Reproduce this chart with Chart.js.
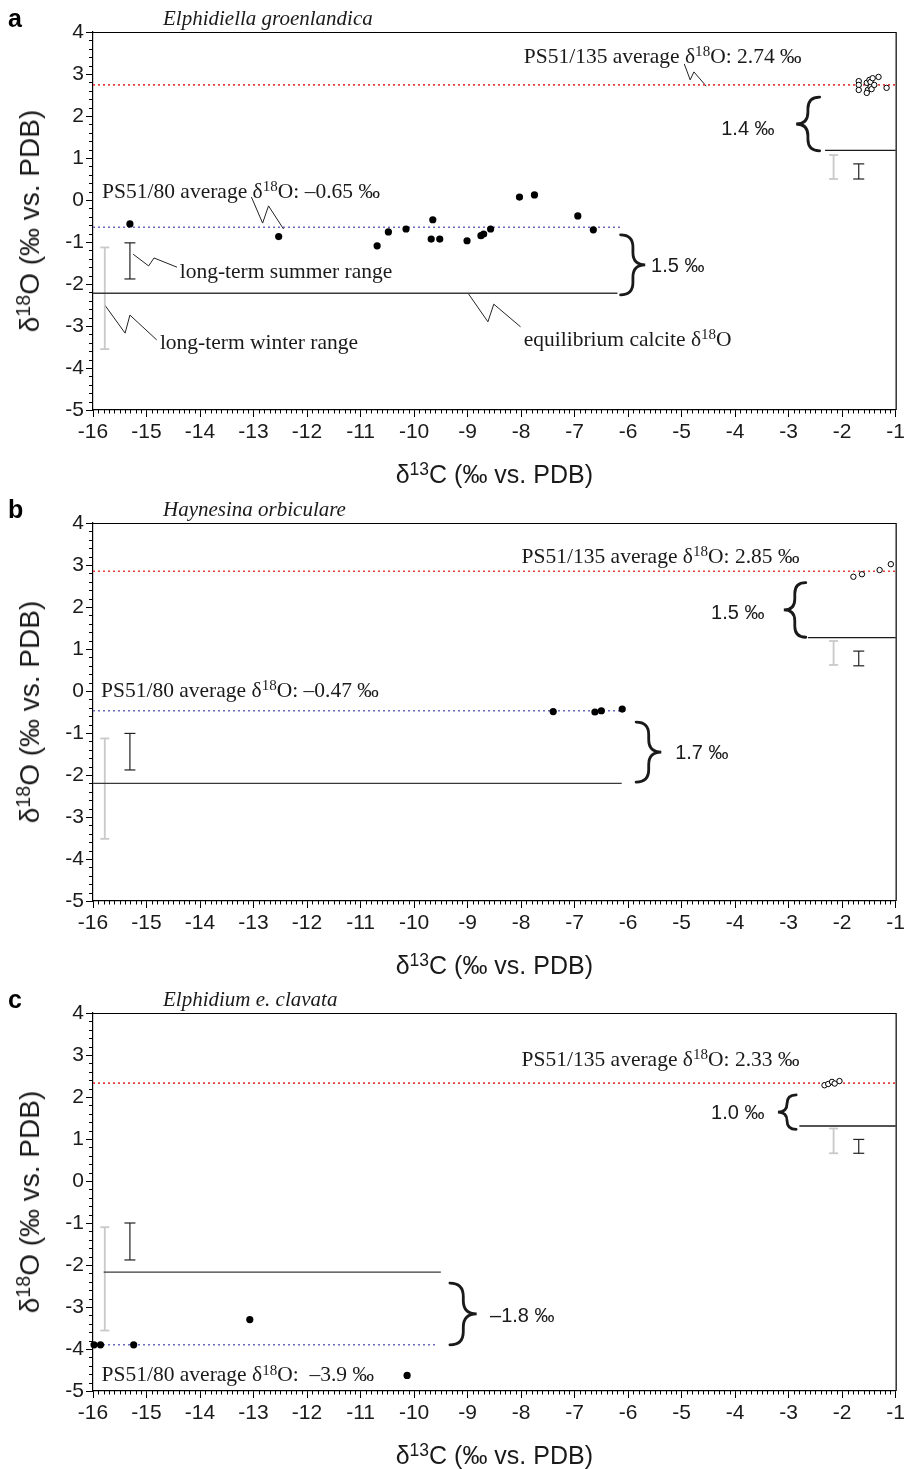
<!DOCTYPE html>
<html><head><meta charset="utf-8">
<script src="https://cdn.jsdelivr.net/npm/chart.js@4.4.0/dist/chart.umd.min.js"></script>
<style>
html,body{margin:0;padding:0;background:#fff;}
#wrap{position:relative;width:908px;height:1469px;overflow:hidden;background:#fff;}
canvas{position:absolute;left:0;}
.t{position:absolute;white-space:nowrap;line-height:1;color:#1a1a1a;}
.serif{font-family:'Liberation Serif','Times New Roman',serif;font-size:21.5px;}
.sans{font-family:'Liberation Sans',Arial,sans-serif;font-size:20px;}
.sup{font-size:0.7em;position:relative;top:-0.45em;}
.title{font-family:'Liberation Serif','Times New Roman',serif;font-style:italic;font-size:21px;}
.letter{font-family:'Liberation Sans',Arial,sans-serif;font-weight:bold;font-size:25px;color:#000;}
.axt{font-family:'Liberation Sans',Arial,sans-serif;font-size:25px;}
.axty{font-family:'Liberation Sans',Arial,sans-serif;font-size:28px;}
</style></head><body><div id="wrap"></div>
<script>
// ---------- tick labels ----------
const xTickValues = [-16,-15,-14,-13,-12,-11,-10,-9,-8,-7,-6,-5,-4,-3,-2,-1];
const yTickValues = [4,3,2,1,0,-1,-2,-3,-4,-5];
const xAxisTitle = 'δ<span class="sup">13</span>C (‰ vs. PDB)';
const yAxisTitle = 'δ<span class="sup">18</span>O (‰ vs. PDB)';

// ---------- panel a: Elphidiella groenlandica ----------
const aName = 'Elphidiella groenlandica';
const aPS80_d13C = [-15.31,-12.53,-10.69,-10.48,-10.15,-9.65,-9.68,-9.52,-9.01,-8.75,-8.70,-8.57,-8.03,-7.75,-6.94,-6.65];
const aPS80_d18O = [-0.57,-0.87,-1.09,-0.76,-0.69,-0.47,-0.93,-0.93,-0.97,-0.85,-0.81,-0.69,0.07,0.12,-0.38,-0.71];
const aPS135_d13C = [-1.69,-1.69,-1.69,-1.54,-1.52,-1.54,-1.49,-1.47,-1.47,-1.45,-1.43,-1.40,-1.32,-1.17];
const aPS135_d18O = [2.83,2.74,2.62,2.79,2.62,2.55,2.86,2.69,2.81,2.64,2.90,2.74,2.93,2.67];
const aAvg = [-0.65, 2.74];          // PS51/80, PS51/135 average δ18O
const aEquil = [-2.22, 1.18];        // equilibrium calcite δ18O at PS51/80, PS51/135
const aSummer80 = [-1.02, -1.88];
const aWinter80 = [-1.13, -3.55];
const aSummer135 = [0.86, 0.50];
const aWinter135 = [1.07, 0.50];
const aOffsets = ['1.5 ‰', '1.4 ‰'];

// ---------- panel b: Haynesina orbiculare ----------
const bName = 'Haynesina orbiculare';
const bPS80_d13C = [-7.40,-6.62,-6.50,-6.11];
const bPS80_d18O = [-0.49,-0.50,-0.47,-0.43];
const bPS135_d13C = [-1.79,-1.63,-1.30,-1.09];
const bPS135_d18O = [2.72,2.78,2.88,3.02];
const bAvg = [-0.47, 2.85];
const bEquil = [-2.20, 1.27];
const bSummer80 = [-1.01, -1.88];
const bWinter80 = [-1.13, -3.52];
const bSummer135 = [0.95, 0.60];
const bWinter135 = [1.19, 0.62];
const bOffsets = ['1.7 ‰', '1.5 ‰'];

// ---------- panel c: Elphidium e. clavata ----------
const cName = 'Elphidium e. clavata';
const cPS80_d13C = [-15.98,-15.86,-15.24,-13.07,-10.13];
const cPS80_d18O = [-3.90,-3.90,-3.90,-3.30,-4.63];
const cPS135_d13C = [-2.33,-2.26,-2.19,-2.14,-2.05];
const cPS135_d18O = [2.28,2.31,2.36,2.32,2.38];
const cAvg = [-3.9, 2.33];
const cEquil = [-2.17, 1.31];
const cSummer80 = [-1.00, -1.88];
const cWinter80 = [-1.10, -3.56];
const cSummer135 = [0.99, 0.66];
const cWinter135 = [1.25, 0.66];
const cOffsets = ['–1.8 ‰', '1.0 ‰'];

// ---------- layout / annotation settings (not data) ----------
const panels = [
  {letter:'a', name:aName, x80:aPS80_d13C, y80:aPS80_d18O, x135:aPS135_d13C, y135:aPS135_d18O,
   avg:aAvg, eq:aEquil, s80:aSummer80, w80:aWinter80, s135:aSummer135, w135:aWinter135, off:aOffsets,
   top:0, h:490, avg80End:-6.1, eq80Range:[-16,-6.2], eq135Start:-2.32, barX:[-15.31,-15.78,-1.69,-2.16],
   labels:{l135:[-7.95,3.41], l80:[-15.83,0.19], off80:[-5.57,-1.55], off135:[-4.26,1.71]},
   avg80Text:'–0.65', avg135Text:'2.74',
   braces:[[-6.14,-5.68,-0.83,-2.26],[-2.42,-2.86,2.45,1.17]],
   extraText:[['long-term summer range',-14.38,-1.71],['long-term winter range',-14.75,-3.40],
              ['equilibrium calcite δ<span class="sup">18</span>O',-7.95,-3.33]],
   leaders:[
     [[-4.95,3.24],[-4.84,2.86],[-4.77,3.05],[-4.54,2.71]],
     [[-13.04,0.07],[-12.83,-0.55],[-12.72,-0.14],[-12.44,-0.69]],
     [[-15.25,-1.29],[-14.96,-1.57],[-14.86,-1.38],[-14.43,-1.60]],
     [[-15.78,-2.50],[-15.40,-3.17],[-15.31,-2.74],[-14.81,-3.33]],
     [[-8.98,-2.24],[-8.62,-2.90],[-8.51,-2.48],[-8.01,-3.02]]
   ]},
  {letter:'b', name:bName, x80:bPS80_d13C, y80:bPS80_d18O, x135:bPS135_d13C, y135:bPS135_d18O,
   avg:bAvg, eq:bEquil, s80:bSummer80, w80:bWinter80, s135:bSummer135, w135:bWinter135, off:bOffsets,
   top:491, h:490, avg80End:-6.03, eq80Range:[-16,-6.12], eq135Start:-2.64, barX:[-15.31,-15.78,-1.69,-2.16],
   labels:{l135:[-7.99,3.20], l80:[-15.85,0.01], off80:[-5.12,-1.45], off135:[-4.45,1.89]},
   avg80Text:'–0.47', avg135Text:'2.85',
   braces:[[-5.85,-5.38,-0.74,-2.17],[-2.68,-3.09,2.58,1.28]],
   extraText:[], leaders:[]},
  {letter:'c', name:cName, x80:cPS80_d13C, y80:cPS80_d18O, x135:cPS135_d13C, y135:cPS135_d18O,
   avg:cAvg, eq:cEquil, s80:cSummer80, w80:cWinter80, s135:cSummer135, w135:cWinter135, off:cOffsets,
   top:981, h:488, avg80End:-9.57, eq80Range:[-15.8,-9.5], eq135Start:-2.80, barX:[-15.31,-15.78,-1.69,-2.16],
   labels:{l135:[-7.99,2.88], l80:[-15.84,-4.63], off80:[-8.58,-3.18], off135:[-4.45,1.65]},
   avg80Text:'&nbsp;–3.9', avg135Text:'2.33',
   braces:[[-9.33,-8.83,-2.43,-3.90],[-2.86,-3.20,2.05,1.23]],
   extraText:[], leaders:[]}
];

const wrap = document.getElementById('wrap');
const RED = '#e8403f', BLUE = '#6a6ac0', EQ = '#3a3a3a', GREY = '#c9c9c9';

function drawBrace(ctx, xs, ys, x0v, x1v, y0v, y1v) {
  const x0 = xs.getPixelForValue(x0v), x1 = xs.getPixelForValue(x1v);
  const ya = ys.getPixelForValue(y0v), yb = ys.getPixelForValue(y1v);
  const top = Math.min(ya, yb), bot = Math.max(ya, yb), mid = (top + bot) / 2;
  const xm = (x0 + x1) / 2, r = Math.min(Math.abs(x1 - x0) / 2, (bot - top) / 4);
  ctx.beginPath();
  ctx.moveTo(x0, top);
  ctx.quadraticCurveTo(xm, top, xm, top + r);
  ctx.lineTo(xm, mid - r);
  ctx.quadraticCurveTo(xm, mid, x1, mid);
  ctx.quadraticCurveTo(xm, mid, xm, mid + r);
  ctx.lineTo(xm, bot - r);
  ctx.quadraticCurveTo(xm, bot, x0, bot);
  ctx.stroke();
}

const decor = {
  id: 'decor',
  afterDraw(chart) {
    const {ctx, chartArea: a, scales: {x, y}} = chart;
    const p = chart.options.plugins.decor.panel;
    ctx.save();
    ctx.strokeStyle = '#000';
    ctx.lineWidth = 1.2;
    ctx.beginPath();
    ctx.moveTo(a.left, a.top + 0.5); ctx.lineTo(a.right + 0.5, a.top + 0.5); ctx.lineTo(a.right + 0.5, a.bottom);
    ctx.stroke();
    ctx.lineWidth = 1;
    ctx.beginPath();
    for (let i = 0; i <= 150; i++) {
      if (i % 10 === 0) continue;
      const px = Math.round(x.getPixelForValue(-16 + i / 10)) + 0.5;
      ctx.moveTo(px, a.bottom); ctx.lineTo(px, a.bottom + 3.5);
    }
    for (let i = 0; i <= 45; i++) {
      if (i % 5 === 0) continue;
      const py = Math.round(y.getPixelForValue(-5 + i * 0.2)) + 0.5;
      ctx.moveTo(a.left - 4, py); ctx.lineTo(a.left, py);
    }
    ctx.stroke();
    ctx.strokeStyle = '#1a1a1a';
    ctx.lineWidth = 2.8;
    ctx.lineCap = 'round';
    p.braces.forEach(b => drawBrace(ctx, x, y, b[0], b[1], b[2], b[3]));
    ctx.restore();
  }
};

function addText(html, cls, left, top, transform) {
  const d = document.createElement('div');
  d.className = 't ' + cls;
  d.innerHTML = html;
  d.style.left = left + 'px';
  d.style.top = top + 'px';
  d.style.transform = transform || 'translateY(-50%)';
  wrap.appendChild(d);
  return d;
}

panels.forEach(p => {
  const canvas = document.createElement('canvas');
  canvas.width = 908; canvas.height = p.h;
  canvas.style.top = p.top + 'px';
  wrap.appendChild(canvas);
  const pts = (xs, ys) => xs.map((v, i) => ({x: v, y: ys[i]}));
  const seg = (x1, y1, x2, y2) => [{x: x1, y: y1}, {x: x2, y: y2}];
  const lineDs = (data, color, width, dash) => ({data, showLine: true, pointRadius: 0, borderColor: color,
    borderWidth: width, borderDash: dash || [], fill: false, clip: false});
  const barDs = (xv, r, color, width, cap) => ({data: seg(xv, r[0], xv, r[1]), showLine: true,
    borderColor: color, borderWidth: width, pointStyle: 'line', pointRadius: cap,
    pointBorderColor: color, pointBorderWidth: width, clip: false});
  const datasets = [
    {data: pts(p.x80, p.y80), showLine: false, pointRadius: 3.6, pointBackgroundColor: '#000',
     pointBorderColor: '#000', pointBorderWidth: 0, clip: false},
    {data: pts(p.x135, p.y135), showLine: false, pointRadius: 2.7, pointBackgroundColor: '#fff',
     pointBorderColor: '#000', pointBorderWidth: 1, clip: false},
    lineDs(seg(-16, p.avg[1], -1, p.avg[1]), RED, 1.6, [2, 3]),
    lineDs(seg(-16, p.avg[0], p.avg80End, p.avg[0]), BLUE, 1.5, [2, 3]),
    lineDs(seg(p.eq80Range[0], p.eq[0], p.eq80Range[1], p.eq[0]), EQ, 1.3),
    lineDs(seg(p.eq135Start, p.eq[1], -1, p.eq[1]), '#1a1a1a', 1.3),
    barDs(p.barX[0], p.s80, '#222', 1.2, 5.5),
    barDs(p.barX[1], p.w80, GREY, 1.8, 4.5),
    barDs(p.barX[2], p.s135, '#222', 1.2, 5.5),
    barDs(p.barX[3], p.w135, GREY, 1.8, 4.5)
  ];
  p.leaders.forEach(L => datasets.push(lineDs(L.map(q => ({x: q[0], y: q[1]})), '#222', 1)));

  const tickFont = {family: "'Liberation Sans', Arial, sans-serif", size: 21};
  const chart = new Chart(canvas, {
    type: 'scatter',
    data: {datasets},
    plugins: [decor],
    options: {
      responsive: false, animation: false, events: [],
      layout: {padding: {top: 32, right: 10, left: 0, bottom: 0}},
      plugins: {legend: {display: false}, tooltip: {enabled: false}, decor: {panel: p}},
      scales: {
        x: {type: 'linear', min: -16, max: -1,
            afterBuildTicks: s => { s.ticks = xTickValues.map(v => ({value: v})); },
            afterFit: s => { s.height = p.h - 410; },
            ticks: {autoSkip: false, maxRotation: 0, color: '#1a1a1a', font: tickFont, padding: 3,
                    callback: v => String(v)},
            grid: {drawOnChartArea: false, drawTicks: true, tickLength: 7, color: '#000', lineWidth: 1},
            border: {display: true, color: '#000', width: 1.2}},
        y: {type: 'linear', min: -5, max: 4,
            afterBuildTicks: s => { s.ticks = yTickValues.map(v => ({value: v})); },
            afterFit: s => { s.width = 93; },
            ticks: {autoSkip: false, color: '#1a1a1a', font: tickFont, padding: 2,
                    callback: v => String(v)},
            grid: {drawOnChartArea: false, drawTicks: true, tickLength: 7, color: '#000', lineWidth: 1},
            border: {display: true, color: '#000', width: 1.2}}
      }
    }
  });

  const xs = chart.scales.x, ys = chart.scales.y, a = chart.chartArea;
  const X = v => xs.getPixelForValue(v), Y = v => p.top + ys.getPixelForValue(v);
  // panel letter, species title, axis titles
  addText(p.letter, 'letter', 8, p.top + 18);
  addText(p.name, 'title', 163, p.top + 18);
  addText(xAxisTitle, 'axt', (a.left + a.right) / 2, p.top + 474, 'translate(-50%,-50%)');
  addText(yAxisTitle, 'axty', 30, p.top + (a.top + a.bottom) / 2, 'translate(-50%,-50%) rotate(-90deg)');
  // annotations
  const L = p.labels;
  addText('PS51/135 average δ<span class="sup">18</span>O: ' + p.avg135Text + ' ‰', 'serif', X(L.l135[0]), Y(L.l135[1]));
  addText('PS51/80 average δ<span class="sup">18</span>O: ' + p.avg80Text + ' ‰', 'serif', X(L.l80[0]), Y(L.l80[1]));
  addText(p.off[0], 'sans', X(L.off80[0]), Y(L.off80[1]));
  addText(p.off[1], 'sans', X(L.off135[0]), Y(L.off135[1]));
  p.extraText.forEach(e => addText(e[0], 'serif', X(e[1]), Y(e[2])));
});
</script></body></html>
